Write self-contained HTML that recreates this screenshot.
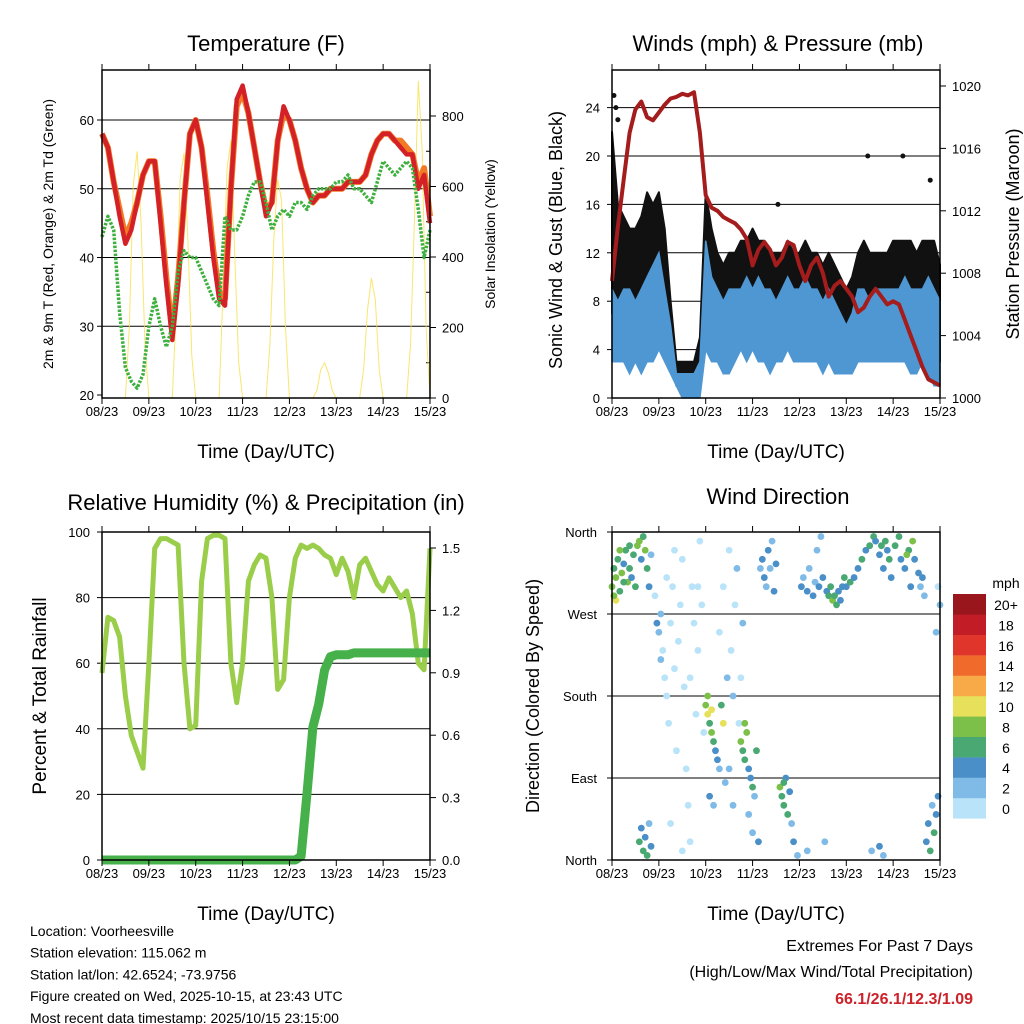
<!DOCTYPE html>
<html><head><meta charset="utf-8"><style>
html,body{margin:0;padding:0;background:#fff;}
svg{display:block;font-family:"Liberation Sans",sans-serif;}
</style></head><body>
<svg id="c" width="1024" height="1024" viewBox="0 0 1024 1024" xmlns="http://www.w3.org/2000/svg"></svg>
<script>
const hours3 = [0,3,6,9,12,15,18,21,24,27,30,33,36,39,42,45,48,51,54,57,60,63,66,69,72,75,78,81,84,87,90,93,96,99,102,105,108,111,114,117,120,123,126,129,132,135,138,141,144,147,150,153,156,159,162,165,168];
const xTickLabels = ["08/23","09/23","10/23","11/23","12/23","13/23","14/23","15/23"];
const temp2m = [58,56,51,46,42,44,48,52,54,54,45,36,28,36,48,58,60,56,48,40,34,33,50,63,65,61,56,51,46,48,57,62,60,57,53,50,48,49,49,50,50,50,51,51,51,52,55,57,58,58,57,56,55,55,50,52,45];
const temp9m = [58,56,51,47,43,45,48,52,54,54,46,37,29,37,48,58,60,56,49,41,35,34,50,62,64,61,56,51,47,48,57,61,60,57,53,50,48,49,49,50,50,50,51,51,51,52,55,57,58,58,57,57,56,55,51,53,46];
const dewPoint = [43,46,44,32,24,22,21,23,30,34,30,27,30,38,41,40,40,38,36,34,33,46,44,44,46,49,51,51,48,44,46,47,46,48,48,47,49,50,50,50,51,51,52,50,50,49,48,51,54,53,52,53,54,53,47,40,44];
const solarHours = [11,13,15,17,19,21,23];
const solarDay1 = [0,200,600,700,500,150,0];
const solarDay2 = [0,250,620,695,450,120,0];
const solarDay3 = [0,300,650,730,400,100,0];
const solarDay4 = [0,150,450,620,560,200,0];
const solarDay5 = [0,20,80,100,70,20,0];
const solarDay6 = [0,80,250,340,280,80,0];
const solarDay7 = [0,150,500,900,700,200,0];
const windLo = [3,3,3,2,3,2,3,3,4,3,2,1,0,0,0,0,4,3,3,2,2,3,4,3,4,3,3,2,3,3,4,3,3,3,3,3,2,3,2,2,2,2,3,3,3,3,3,3,3,3,3,2,2,3,2,1,1];
const windHi = [9,8,9,9,8,9,10,11,12,9,6,2,2,2,2,3,13,10,9,8,9,9,9,10,9,10,9,9,8,9,10,9,9,10,9,9,8,9,8,7,6,7,9,9,8,9,9,9,9,9,10,9,9,9,10,9,8];
const gustLo = [7,6,6,6,5,6,7,8,9,7,4,1,1,1,1,2,10,8,7,6,6,6,7,7,7,7,7,6,6,6,7,7,6,7,7,6,6,6,6,5,5,5,6,6,6,6,7,7,7,7,7,6,6,7,6,5,3];
const gustHi = [22,16,15,14,14,15,17,16,17,14,8,3,3,3,3,5,17,14,12,11,12,12,13,13,14,13,13,12,12,12,13,12,12,13,12,12,11,12,11,10,9,10,12,13,12,12,12,12,13,13,13,13,12,13,13,13,11];
const gustOutlierT = [1,2,3,85,131,149,163];
const gustOutlierV = [25,24,23,16,20,20,18];
const pressure = [1007.5,1011,1014,1017,1018.5,1019,1018,1017.8,1018.3,1018.8,1019.2,1019.3,1019.5,1019.4,1019.6,1017,1013,1012.2,1012,1011.6,1011.4,1011.2,1010.8,1010.2,1008.5,1009.5,1010,1009.5,1008.5,1009,1010,1009.8,1008.5,1007.5,1008.5,1009,1008,1006.5,1007.2,1007.5,1007,1006.5,1005.5,1005.8,1006.5,1007,1006.5,1006,1006.2,1006,1005,1004,1003,1002,1001.2,1001,1000.8];
const humidity = [57,74,73,68,50,38,33,28,60,95,98,98,97,96,60,40,41,85,98,99,99,98,60,48,60,85,90,93,92,80,52,55,80,92,96,95,96,95,93,92,87,92,88,80,90,92,88,84,82,86,83,80,82,75,60,58,95];
const precip = [0,0,0,0,0,0,0,0,0,0,0,0,0,0,0,0,0,0,0,0,0,0,0,0,0,0,0,0,0,0,0,0,0,0,0.02,0.35,0.7,0.82,1.0,1.07,1.08,1.08,1.08,1.09,1.09,1.09,1.09,1.09,1.09,1.09,1.09,1.09,1.09,1.09,1.09,1.09,1.09];
const dirPoints = [[0,300,8],[1,320,7],[2,310,9],[3,330,6],[4,295,7],[5,315,8],[6,325,5],[7,340,6],[8,305,9],[9,320,7],[10,310,4],[11,335,6],[12,300,7],[13,345,8],[14,350,9],[15,330,5],[16,355,7],[17,340,9],[18,320,6],[19,300,4],[20,335,3],[2,285,10],[1,290,9],[4,340,8],[6,305,7],[9,345,6],
[14,20,6],[15,35,5],[16,10,7],[17,25,4],[18,5,6],[19,40,3],[20,15,5],
[22,290,1],[23,260,4],[24,250,3],[25,270,2],[26,230,1],[27,200,1],[28,180,0],[29,150,1],[30,260,1],[31,300,0],[32,210,1],[33,120,0],[34,240,1],[35,280,0],[36,330,1],[37,190,0],[38,100,1],[39,60,0],[40,20,0],[41,300,1],[42,260,0],[43,160,1],[44,230,1],[45,350,1],[46,280,0],[47,140,1],[30,40,1],[36,10,0],[25,220,2],[28,310,1],[32,340,1],[40,200,1],[44,300,0],
[48,170,8],[49,160,10],[50,150,6],[51,140,9],[52,130,7],[53,120,5],[54,110,4],[55,100,3],[56,170,7],[57,150,11],[58,85,3],[50,70,4],[52,60,2],[49,180,9],[51,165,10],
[55,250,1],[57,300,1],[59,200,2],[60,340,1],[61,230,1],[62,180,2],[63,280,1],[64,320,2],[65,150,1],[66,200,1],[67,260,2],[60,100,2],[62,60,2],
[66,130,8],[67,120,7],[68,110,6],[69,140,9],[70,100,5],[71,90,4],[72,80,6],[73,70,3],[74,120,7],[70,50,3],[72,30,2],[75,20,4],[68,150,8],
[76,320,3],[77,330,4],[78,310,5],[79,300,3],[80,340,4],[81,320,2],[82,350,3],[83,295,4],[84,325,5],
[86,80,8],[87,70,7],[88,60,6],[89,90,5],[90,50,7],[91,75,4],[92,40,3],[93,20,4],[95,5,3],[88,85,6],
[97,300,4],[98,310,3],[100,295,5],[101,320,2],[103,290,4],[104,305,3],[105,340,2],[106,300,5],[107,355,2],[108,310,4],[110,295,5],[111,290,6],[112,300,7],[113,285,8],[114,290,7],[115,280,6],[116,295,5],[118,300,4],[119,310,6],[117,285,4],[109,20,2],[100,10,3],
[120,300,5],[122,305,6],[124,310,4],[126,320,5],[128,330,6],[130,340,5],[132,345,7],[134,355,6],[135,350,4],[137,335,5],[138,345,7],[139,320,4],[133,10,3],[137,15,4],[139,5,2],
[140,350,6],[141,340,4],[142,330,7],[143,310,5],[145,345,6],[147,355,7],[148,330,5],[150,320,4],[152,340,6],[153,300,5],[154,350,8],[155,330,4],[157,315,5],[158,300,3],[159,310,4],[160,290,3],[151,335,9],
[161,20,5],[162,40,4],[163,10,6],[164,60,3],[165,30,7],[166,50,5],[167,70,4],[168,280,2],[167,300,1],[166,250,3]];
const speedColors = ["#b9e3f8","#7fbbe6","#4a8fc7","#4aa872","#7cc04a","#e6e05a","#f8aa48","#f06a2c","#e0352a","#c21c26","#98161c"];
const speedLabels = ["0","2","4","6","8","10","12","14","16","18","20+"];
const dirLabels = ["North","East","South","West","North"];

const NS="http://www.w3.org/2000/svg";
const svg=document.getElementById('c');
function mk(tag,attrs,parent){const e=document.createElementNS(NS,tag);for(const k in attrs)e.setAttribute(k,attrs[k]);(parent||svg).appendChild(e);return e;}
function txt(s,x,y,size,anchor,extra){const e=mk('text',Object.assign({x:x,y:y,'font-size':size,'text-anchor':anchor||'middle',fill:'#000'},extra||{}));e.textContent=s;return e;}
function xScale(x0){return t=>x0+t*328/168;}
function pts(xs,ys,fx,fy){return xs.map((t,i)=>fx(t).toFixed(1)+','+fy(ys[i]).toFixed(1)).join(' ');}

function frame(x0,y0,name){
  const b=mk('rect',{x:x0,y:y0,width:328,height:328,fill:'none',stroke:'#000','stroke-width':1.5});
  
  
  const fx=xScale(x0);
  xTickLabels.forEach((l,i)=>{
    const x=fx(i*24);
    mk('line',{x1:x,x2:x,y1:y0+328,y2:y0+334,stroke:'#000'});
    mk('line',{x1:x,x2:x,y1:y0,y2:y0-6,stroke:'#000'});
    const t=txt(l,x,y0+346,13);
    
    
  });
  const xt=txt('Time (Day/UTC)',x0+164,y0+388,19);
  
  
}
function hgrid(x0,y,w){mk('line',{x1:x0,x2:x0+w,y1:y,y2:y,stroke:'#000','stroke-width':1});}

// ---------- Panel 1: Temperature ----------
(function(){
  const x0=102,y0=70,fx=xScale(x0);
  const fy=v=>395-(v-20)*6.875;
  const fs=v=>398-v*0.3525;
  [30,40,50,60].forEach(v=>hgrid(x0,fy(v),328));
  [20,30,40,50,60].forEach(v=>{mk('line',{x1:x0-5,x2:x0,y1:fy(v),y2:fy(v),stroke:'#000'});const t=txt(String(v),x0-8,fy(v)+5,13,'end');});
  [0,200,400,600,800].forEach(v=>{mk('line',{x1:430,x2:436,y1:fs(v),y2:fs(v),stroke:'#000'});const t=txt(String(v),442,fs(v)+5,13,'start');});
  for(let v=100;v<900;v+=200){mk('line',{x1:426,x2:430,y1:fs(v),y2:fs(v),stroke:'#000'});}
  const days=[solarDay1,solarDay2,solarDay3,solarDay4,solarDay5,solarDay6,solarDay7];
  days.forEach((d,i)=>{
    const ts=solarHours.map(h=>i*24+h-23+24);
    const p=mk('polyline',{points:pts(ts,d,fx,fs),fill:'none',stroke:'#f7e04a','stroke-width':1,'stroke-opacity':0.8});
    
    
  });
  const o=mk('polyline',{points:pts(hours3,temp9m,fx,fy),fill:'none',stroke:'#f27a24','stroke-width':6,'stroke-linejoin':'round'});
  
  
  const r=mk('polyline',{points:pts(hours3,temp2m,fx,fy),fill:'none',stroke:'#d42127','stroke-width':4.5,'stroke-linejoin':'round'});
  
  
  const d=mk('polyline',{points:pts(hours3,dewPoint,fx,fy),fill:'none',stroke:'#3db03d','stroke-width':3.5,'stroke-dasharray':'2.5 1.5','stroke-linejoin':'round'});
  
  
  frame(x0,y0,'temperature');
  const t=txt('Temperature (F)',266,51,22);
  const yl=txt('2m & 9m T (Red, Orange) & 2m Td (Green)',0,0,14,'middle',{transform:'translate(53,234) rotate(-90)'});
  const yr=txt('Solar Insolation (Yellow)',0,0,14,'middle',{transform:'translate(495,234) rotate(-90)'});
})();

// ---------- Panel 2: Winds ----------
(function(){
  const x0=612,y0=70,fx=xScale(x0);
  const fy=v=>398-v*12.1;
  const fp=v=>398-(v-1000)*15.6;
  [4,8,12,16,20,24].forEach(v=>hgrid(x0,fy(v),328));
  [0,4,8,12,16,20,24].forEach(v=>{mk('line',{x1:x0-5,x2:x0,y1:fy(v),y2:fy(v),stroke:'#000'});const t=txt(String(v),x0-12,fy(v)+5,13,'end');});
  [1000,1004,1008,1012,1016,1020].forEach(v=>{mk('line',{x1:940,x2:946,y1:fp(v),y2:fp(v),stroke:'#000'});const t=txt(String(v),952,fp(v)+5,13,'start');});
  const band=(lo,hi)=>pts(hours3,hi,fx,fy)+' '+pts(hours3.slice().reverse(),lo.slice().reverse(),fx,fy);
  const gb=mk('polygon',{points:band(gustLo,gustHi),fill:'#111',stroke:'#111','stroke-width':2,'stroke-linejoin':'round'});
  
  
  gustOutlierT.forEach((t,i)=>{const c=mk('circle',{cx:fx(t),cy:fy(gustOutlierV[i]),r:2.5,fill:'#111'});});
  const wb=mk('polygon',{points:band(windLo,windHi),fill:'#4f97d2',stroke:'#4f97d2','stroke-width':1.5});
  
  
  const p=mk('polyline',{points:pts(hours3,pressure,fx,fp),fill:'none',stroke:'#a51c1c','stroke-width':4,'stroke-linejoin':'round'});
  
  
  frame(x0,y0,'winds');
  const t=txt('Winds (mph) & Pressure (mb)',778,51,22);
  const yl=txt('Sonic Wind & Gust (Blue, Black)',0,0,18,'middle',{transform:'translate(562,240) rotate(-90)'});
  const yr=txt('Station Pressure (Maroon)',0,0,18,'middle',{transform:'translate(1019,234) rotate(-90)'});
})();

// ---------- Panel 3: RH & Precip ----------
(function(){
  const x0=102,y0=532,fx=xScale(x0);
  const fy=v=>860-v*3.28;
  const fr=v=>860-v*190;
  const fl=v=>860-v*208;
  [20,40,60,80].forEach(v=>hgrid(x0,fy(v),328));
  [0,20,40,60,80,100].forEach(v=>{mk('line',{x1:x0-5,x2:x0,y1:fy(v),y2:fy(v),stroke:'#000'});const t=txt(String(v),x0-12,fy(v)+5,13,'end');});
  [0,0.3,0.6,0.9,1.2,1.5].forEach(v=>{mk('line',{x1:430,x2:436,y1:fl(v),y2:fl(v),stroke:'#000'});const t=txt(v.toFixed(1),442,fl(v)+5,13,'start');});
  const h=mk('polyline',{points:pts(hours3,humidity,fx,fy),fill:'none',stroke:'#9acd4a','stroke-width':5,'stroke-linejoin':'round'});
  
  
  const p=mk('polyline',{points:pts(hours3,precip,fx,fr),fill:'none',stroke:'#46b04a','stroke-width':9,'stroke-linejoin':'round'});
  
  
  frame(x0,y0,'humidity');
  const t=txt('Relative Humidity (%) & Precipitation (in)',266,510,22);
  const yl=txt('Percent & Total Rainfall',0,0,19,'middle',{transform:'translate(46,696) rotate(-90)'});
})();

// ---------- Panel 4: Wind Direction ----------
(function(){
  const x0=612,y0=532,fx=xScale(x0);
  const fy=v=>860-v*328/360;
  [90,180,270].forEach(v=>hgrid(x0,fy(v),328));
  dirLabels.forEach((l,i)=>{const v=i*90;mk('line',{x1:x0-5,x2:x0,y1:fy(v),y2:fy(v),stroke:'#000'});const t=txt(l,x0-15,fy(v)+5,13,'end');});
  dirPoints.forEach(p=>{
    const idx=Math.min(10,Math.floor(p[2]/2));
    const c=mk('circle',{cx:fx(p[0]),cy:fy(p[1]),r:3.4,fill:speedColors[idx]});
    
    
  });
  frame(x0,y0,'direction');
  const t=txt('Wind Direction',778,504,22);
  const yl=txt('Direction (Colored By Speed)',0,0,18,'middle',{transform:'translate(539,696) rotate(-90)'});
  const u=txt('mph',1006,588,14);
  speedColors.forEach((c,i)=>{
    const y=594+(10-i)*20.4;
    const r=mk('rect',{x:953,y:y,width:33,height:20.6,fill:c});
    
    
    const l=txt(speedLabels[i],1006,y+16,14);
    
    
  });
})();

// ---------- Footer text ----------
["Location: Voorheesville","Station elevation: 115.062 m","Station lat/lon: 42.6524; -73.9756","Figure created on Wed, 2025-10-15, at 23:43 UTC","Most recent data timestamp: 2025/10/15 23:15:00"].forEach((s,i)=>{
  const t=txt(s,30,936+i*21.7,14,'start');
  
  
});
const e1=txt('Extremes For Past 7 Days',973,951,16,'end');
const e2=txt('(High/Low/Max Wind/Total Precipitation)',973,977,16,'end');
const e3=txt('66.1/26.1/12.3/1.09',973,1004,16,'end',{fill:'#cc2229','font-weight':'bold'});
</script>
</body></html>
